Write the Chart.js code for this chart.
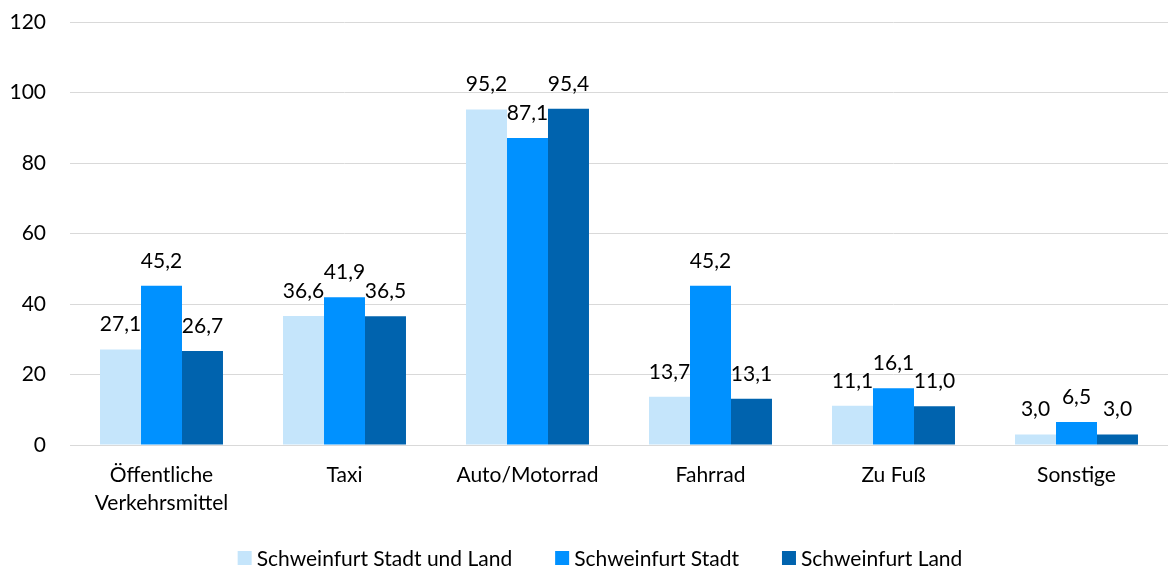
<!DOCTYPE html>
<html lang="de">
<head>
    <meta charset="UTF-8">
    <title>Verkehrsmittel</title>
    <style>
        body { margin: 0; padding: 0; background: #ffffff; }
        #wrap { width: 1168px; height: 567px; }
    </style>
</head>
<body>
    <div id="wrap"><canvas id="myChart" width="1168" height="567"></canvas></div>
    <script src="https://cdn.jsdelivr.net/npm/chart.js"></script>
    <script>
        const categories = [['Öffentliche', 'Verkehrsmittel'], 'Taxi', 'Auto/Motorrad', 'Fahrrad', 'Zu Fuß', 'Sonstige'];
        const seriesNames = ['Schweinfurt Stadt und Land', 'Schweinfurt Stadt', 'Schweinfurt Land'];
        const stadtUndLand = [27.1, 36.6, 95.2, 13.7, 11.1, 3.0];
        const stadt = [45.2, 41.9, 87.1, 45.2, 16.1, 6.5];
        const land = [26.7, 36.5, 95.4, 13.1, 11.0, 3.0];
        const colors = ['#c5e5fb', '#0091ff', '#0063ae'];

        const fontFamily = 'Lato, "Open Sans", sans-serif';
        const fontSize = 21;

        // draws the value above each bar, German decimal comma
        const valueLabels = {
            id: 'valueLabels',
            afterDatasetsDraw(chart) {
                const ctx = chart.ctx;
                ctx.save();
                ctx.font = fontSize + 'px ' + fontFamily;
                ctx.fillStyle = '#000000';
                ctx.textAlign = 'center';
                ctx.textBaseline = 'alphabetic';
                chart.data.datasets.forEach((ds, i) => {
                    chart.getDatasetMeta(i).data.forEach((bar, j) => {
                        const txt = ds.data[j].toFixed(1).replace('.', ',');
                        ctx.fillText(txt, bar.x, bar.y - 18);
                    });
                });
                ctx.restore();
            }
        };

        // legend row under the axis labels, square swatch + series name
        const bottomLegend = {
            id: 'bottomLegend',
            afterDraw(chart) {
                const ctx = chart.ctx;
                const box = 14, gapText = 5, gapItem = 43;
                ctx.save();
                ctx.font = fontSize + 'px ' + fontFamily;
                ctx.textBaseline = 'middle';
                ctx.textAlign = 'left';
                const widths = chart.data.datasets.map(ds => ctx.measureText(ds.label).width);
                const total = widths.reduce((a, w) => a + box + gapText + w, 0) + gapItem * (widths.length - 1);
                let x = (chart.width - total) / 2 + 16;
                const y = chart.chartArea.bottom + 113;
                chart.data.datasets.forEach((ds, i) => {
                    ctx.fillStyle = ds.backgroundColor;
                    ctx.fillRect(x, y - box / 2, box, box);
                    ctx.fillStyle = '#000000';
                    ctx.fillText(ds.label, x + box + gapText, y + 1);
                    x += box + gapText + widths[i] + gapItem;
                });
                ctx.restore();
            }
        };

        const ctx = document.getElementById('myChart').getContext('2d');
        new Chart(ctx, {
            type: 'bar',
            data: {
                labels: categories,
                datasets: [stadtUndLand, stadt, land].map((d, i) => ({
                    label: seriesNames[i],
                    data: d,
                    backgroundColor: colors[i],
                    borderWidth: 0,
                    barPercentage: 1.0,
                    categoryPercentage: 0.672
                }))
            },
            options: {
                responsive: false,
                animation: false,
                layout: { padding: { top: 22, right: 0, left: 10, bottom: 0 } },
                plugins: {
                    legend: { display: false },
                    tooltip: { enabled: false }
                },
                scales: {
                    x: {
                        grid: { display: false, drawTicks: false },
                        border: { color: '#d9d9d9', width: 1 },
                        afterFit(scale) {
                            scale.height = 122;
                            scale.paddingLeft = 0;
                            scale.paddingRight = 0;
                        },
                        ticks: {
                            color: '#000000',
                            padding: 17,
                            maxRotation: 0,
                            autoSkip: false,
                            font: { size: fontSize, family: fontFamily, lineHeight: 1.3 }
                        }
                    },
                    y: {
                        min: 0,
                        max: 120,
                        grid: { color: '#d9d9d9', lineWidth: 1, drawTicks: false },
                        border: { display: false },
                        afterFit(scale) {
                            scale.width = 60;
                            scale.paddingTop = 0;
                            scale.paddingBottom = 0;
                        },
                        ticks: {
                            stepSize: 20,
                            color: '#000000',
                            padding: 24,
                            font: { size: fontSize, family: fontFamily }
                        }
                    }
                }
            },
            plugins: [valueLabels, bottomLegend]
        });
    </script>
</body>
</html>
